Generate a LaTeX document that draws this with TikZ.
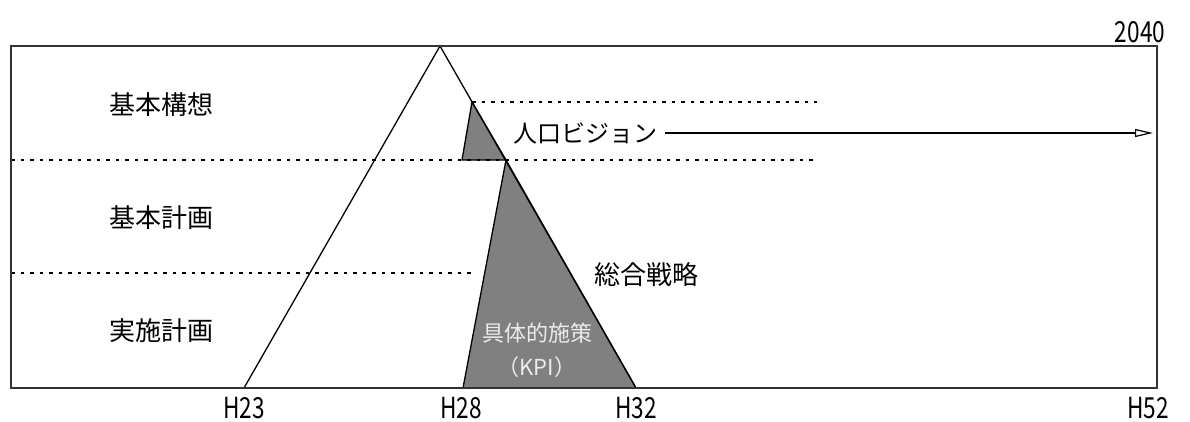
\documentclass[tikz,border=0pt]{standalone}
\usepackage{fontspec}
\setmainfont{Noto Sans CJK JP}
\newfontfamily\numfont[FakeStretch=0.78]{Noto Sans CJK JP}
\usetikzlibrary{arrows.meta}
\definecolor{fillgray}{HTML}{808080}
\definecolor{framegray}{HTML}{333333}
\tikzset{
  framebox/.style={draw=framegray, line width=1.8pt},
  edgeline/.style={draw=black, line width=1.3pt, line join=miter},
  grayshape/.style={fill=fillgray, draw=black, line width=1.3pt},
  dotline/.style={draw=black, line width=1.3pt, dash pattern=on 3.5pt off 6pt},
  lvl/.style={font=\fontsize{26}{28}\selectfont, inner sep=0pt},
  yearlbl/.style={font=\numfont\fontsize{29}{31}\selectfont, inner sep=0pt},
  whitelbl/.style={font=\fontsize{22}{24}\selectfont, text=white!92!black, inner sep=0pt},
  arrowline/.style={draw=black, line width=1.3pt, -{Triangle[open, length=18pt, width=8pt, line width=1.2pt]}}
}
\begin{document}
\begin{tikzpicture}[x=1pt, y=-1pt]
\useasboundingbox (0,0) rectangle (1190,421);
% gray shapes
\path[grayshape] (506,160) -- (463,388) -- (636,388) -- cycle;
\path[grayshape] (472,102) -- (462,160) -- (506,160) -- cycle;
% big triangle
\draw[edgeline] (244,388) -- (440,46) -- (636,388);
% dotted lines
\draw[dotline] (472,102) -- (817,102);
\draw[dotline] (11,160) -- (817,160);
\draw[dotline] (11,273) -- (476,273);
% frame
\draw[framebox] (11,46) rectangle (1157,388);
% labels
\node[lvl] (kousou) at (161,105) {基本構想};
\node[lvl] (kihon) at (161,218) {基本計画};
\node[lvl] (jisshi) at (161,331) {実施計画};
\node[lvl, font=\fontsize{24}{26}\selectfont, inner xsep=8pt] (vision) at (585,133) {人口ビジョン};
\coordinate (visionend) at (1153,133);
\draw[arrowline] (vision.east) -- (visionend);
\node[lvl] (senryaku) at (646,275) {総合戦略};
\node[whitelbl] (sesaku) at (537,333) {具体的施策};
\node[whitelbl] (kpi) at (537,367) {（KPI）};
\node[yearlbl] (y2040) at (1140,32) {2040};
\node[yearlbl, anchor=base] (h23) at (244,418) {H23};
\node[yearlbl, anchor=base] (h28) at (461,418) {H28};
\node[yearlbl, anchor=base] (h32) at (636,418) {H32};
\node[yearlbl, anchor=base] (h52) at (1148,418) {H52};
\end{tikzpicture}
\end{document}
